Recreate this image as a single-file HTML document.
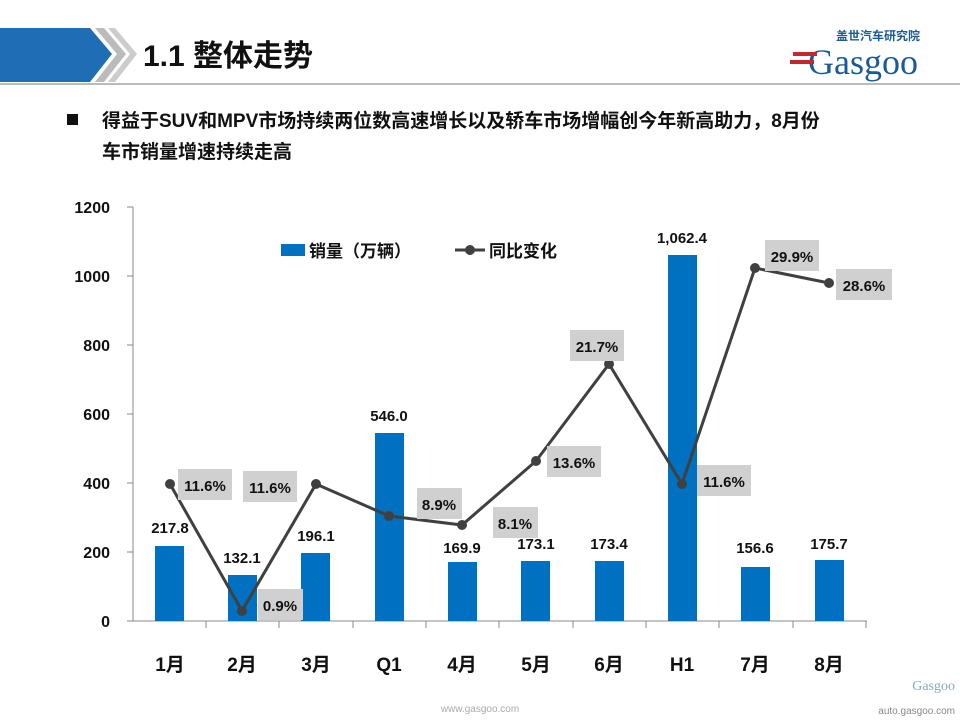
<!DOCTYPE html>
<html><head><meta charset="utf-8"><style>
body{margin:0;width:960px;height:720px;background:#fff;overflow:hidden;font-family:"Liberation Sans","Noto Sans CJK SC",sans-serif}
</style></head><body>
<svg width="960" height="720" xmlns="http://www.w3.org/2000/svg" font-family="Liberation Sans, Noto Sans CJK SC, sans-serif">
<polygon points="0,28 90,28 112,54 90,82 0,82" fill="#1f6db5"/>
<polygon points="95,28 104,28 126,54 104,82 95,82 117,54" fill="#bbb"/>
<polygon points="108,28 115,28 137,54 115,82 108,82 130,54" fill="#ccc"/>
<line x1="0" y1="84" x2="960" y2="84" stroke="#bbb" stroke-width="2"/>
<text x="143" y="66" font-size="30" font-weight="bold" fill="#111">1.1  整体走势</text>
<text x="836" y="40" font-size="12" font-weight="bold" fill="#1a5a96">盖世汽车研究院</text>
<text x="808" y="74" font-size="36" font-family="Liberation Serif,serif" fill="#1a5a96">Gasgoo</text>
<rect x="793" y="52" width="24" height="4" fill="#c62828"/><rect x="790" y="60" width="24" height="4" fill="#c62828"/>
<rect x="67" y="114" width="11" height="11" fill="#111"/>
<text x="102" y="127" font-size="19" font-weight="bold" fill="#111">得益于SUV和MPV市场持续两位数高速增长以及轿车市场增幅创今年新高助力，8月份</text>
<text x="102" y="158" font-size="19" font-weight="bold" fill="#111">车市销量增速持续走高</text>
<g font-size="16" font-weight="bold" fill="#111" text-anchor="end">
<text x="110" y="213">1200</text><text x="110" y="282">1000</text><text x="110" y="351">800</text><text x="110" y="420">600</text><text x="110" y="489">400</text><text x="110" y="558">200</text><text x="110" y="627">0</text>
</g>
<g stroke="#888" stroke-width="1">
<line x1="133" y1="207" x2="133" y2="621"/><line x1="133" y1="621" x2="867" y2="621"/>
<line x1="127" y1="207" x2="133" y2="207"/><line x1="127" y1="276" x2="133" y2="276"/><line x1="127" y1="345" x2="133" y2="345"/><line x1="127" y1="414" x2="133" y2="414"/><line x1="127" y1="483" x2="133" y2="483"/><line x1="127" y1="552" x2="133" y2="552"/><line x1="127" y1="621" x2="133" y2="621"/>
<line x1="206" y1="621" x2="206" y2="628"/><line x1="279" y1="621" x2="279" y2="628"/><line x1="353" y1="621" x2="353" y2="628"/><line x1="426" y1="621" x2="426" y2="628"/><line x1="499" y1="621" x2="499" y2="628"/><line x1="573" y1="621" x2="573" y2="628"/><line x1="646" y1="621" x2="646" y2="628"/><line x1="719" y1="621" x2="719" y2="628"/><line x1="793" y1="621" x2="793" y2="628"/><line x1="866" y1="621" x2="866" y2="628"/>
</g>
<g fill="#0070c0">
<rect x="155" y="546" width="29" height="75"/><rect x="228" y="575" width="29" height="46"/><rect x="301" y="553" width="29" height="68"/><rect x="375" y="433" width="29" height="188"/><rect x="448" y="562" width="29" height="59"/><rect x="521" y="561" width="29" height="60"/><rect x="595" y="561" width="29" height="60"/><rect x="668" y="255" width="29" height="366"/><rect x="741" y="567" width="29" height="54"/><rect x="815" y="560" width="29" height="61"/>
</g>
<g font-size="15" font-weight="bold" fill="#111" text-anchor="middle">
<text x="170" y="533">217.8</text><text x="242" y="563">132.1</text><text x="316" y="541">196.1</text><text x="389" y="421">546.0</text><text x="462" y="553">169.9</text><text x="536" y="549">173.1</text><text x="609" y="549">173.4</text><text x="682" y="243">1,062.4</text><text x="755" y="553">156.6</text><text x="829" y="549">175.7</text>
</g>
<polyline points="170,484 242,611 316,484 389,516 462,525 536,461 609,364 682,484 755,268 829,283" fill="none" stroke="#404040" stroke-width="3"/>
<g fill="#404040">
<circle cx="170" cy="484" r="5"/><circle cx="242" cy="611" r="5"/><circle cx="316" cy="484" r="5"/><circle cx="389" cy="516" r="5"/><circle cx="462" cy="525" r="5"/><circle cx="536" cy="461" r="5"/><circle cx="609" cy="364" r="5"/><circle cx="682" cy="484" r="5"/><circle cx="755" cy="268" r="5"/><circle cx="829" cy="283" r="5"/>
</g>
<g fill="#d0d0d0">
<rect x="178" y="469" width="54" height="31"/><rect x="243" y="471" width="54" height="31"/><rect x="258" y="589" width="45" height="31"/><rect x="417" y="488" width="45" height="31"/><rect x="493" y="507" width="45" height="31"/><rect x="547" y="446" width="54" height="31"/><rect x="570" y="330" width="54" height="31"/><rect x="697" y="465" width="54" height="31"/><rect x="765" y="240" width="54" height="31"/><rect x="836" y="269" width="56" height="31"/>
</g>
<g font-size="15" font-weight="bold" fill="#111" text-anchor="middle">
<text x="205" y="491">11.6%</text><text x="270" y="493">11.6%</text><text x="280" y="611">0.9%</text><text x="439" y="510">8.9%</text><text x="515" y="529">8.1%</text><text x="574" y="468">13.6%</text><text x="597" y="352">21.7%</text><text x="724" y="487">11.6%</text><text x="792" y="262">29.9%</text><text x="864" y="291">28.6%</text>
</g>
<rect x="281" y="244" width="24" height="12" fill="#0070c0"/>
<text x="309" y="257" font-size="17" font-weight="bold" fill="#111">销量（万辆）</text>
<line x1="455" y1="250" x2="485" y2="250" stroke="#404040" stroke-width="3"/><circle cx="470" cy="250" r="5" fill="#404040"/>
<text x="489" y="257" font-size="17" font-weight="bold" fill="#111">同比变化</text>
<g font-size="19" font-weight="bold" fill="#111" text-anchor="middle">
<text x="170" y="671">1月</text><text x="242" y="671">2月</text><text x="316" y="671">3月</text><text x="389" y="671">Q1</text><text x="462" y="671">4月</text><text x="536" y="671">5月</text><text x="609" y="671">6月</text><text x="682" y="671">H1</text><text x="755" y="671">7月</text><text x="829" y="671">8月</text>
</g>
<text x="480" y="712" font-size="10" fill="#aaa" text-anchor="middle">www.gasgoo.com</text>
<text x="955" y="690" font-size="14" fill="#8ab" text-anchor="end" font-family="Liberation Serif,serif">Gasgoo</text>
<text x="955" y="714" font-size="10" fill="#888" text-anchor="end">auto.gasgoo.com</text>
</svg>
</body></html>
